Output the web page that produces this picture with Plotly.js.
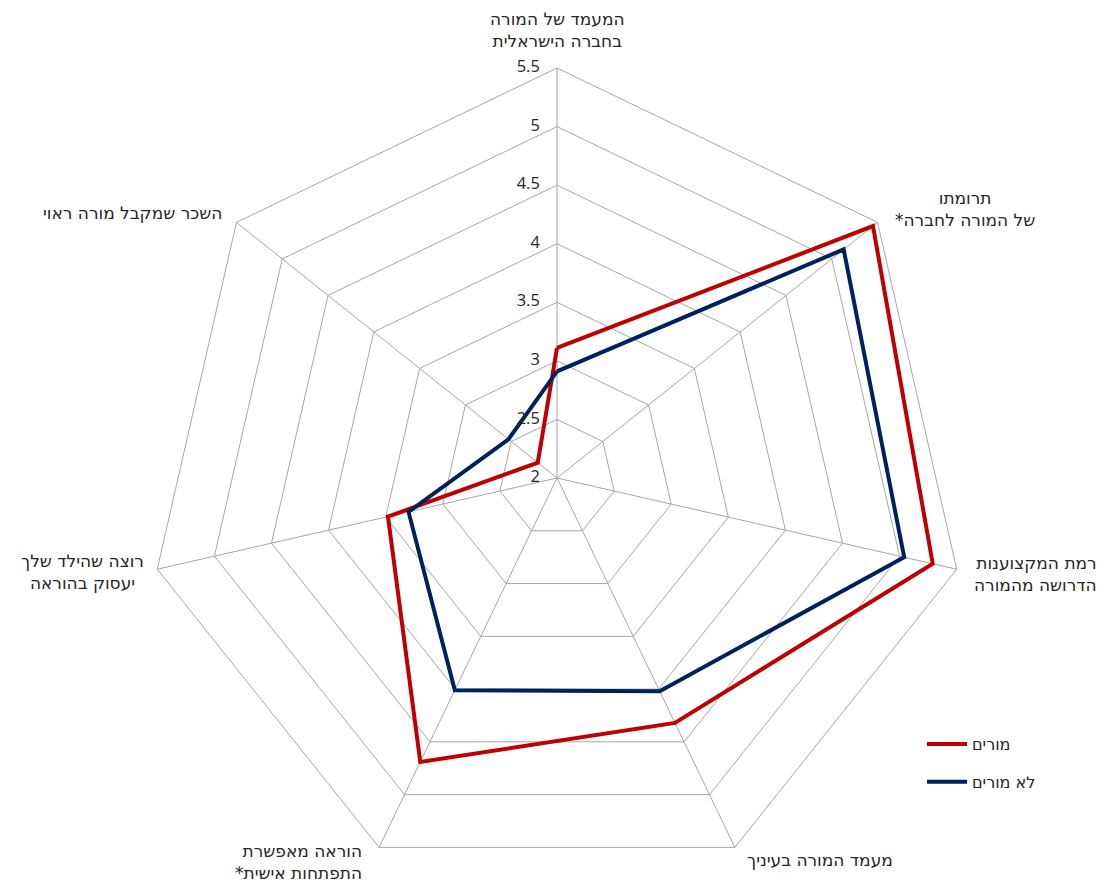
<!DOCTYPE html>
<html>
<head>
<meta charset="utf-8">
<script src="https://cdn.plot.ly/plotly-3.0.1.min.js"></script>
<style>
html,body{margin:0;padding:0;overflow:hidden;background:#fff;}
#chart{width:1110px;height:888px;}
</style>
</head>
<body>
<div id="chart"></div>
<script>
var categories = [
  "המעמד של המורה בחברה הישראלית",
  "תרומתו של המורה לחברה*",
  "רמת המקצוענות הדרושה מהמורה",
  "מעמד המורה בעיניך",
  "הוראה מאפשרת התפתחות אישית*",
  "רוצה שהילד שלך יעסוק בהוראה",
  "השכר שמקבל מורה ראוי"
];
var categoryLabels = [
  "המעמד של המורה<br>בחברה הישראלית",
  "תרומתו<br>*של המורה לחברה",
  "רמת המקצוענות<br>הדרושה מהמורה",
  "מעמד המורה בעיניך",
  "הוראה מאפשרת<br>*התפתחות אישית",
  "רוצה שהילד שלך<br>יעסוק בהוראה",
  "השכר שמקבל מורה ראוי"
];
var seriesNames = ["מורים", "לא מורים"];
var teachers = [3.11, 5.45, 5.29, 4.32, 4.69, 3.48, 2.21];
var nonTeachers = [2.91, 5.13, 5.04, 4.02, 4.01, 3.30, 2.53];
var radialTicks = [2, 2.5, 3, 3.5, 4, 4.5, 5, 5.5];
var radialTickText = ["2", "2.5", "3", "3.5", "4", "4.5", "5", "5.5"];

function closeLoop(a){ return a.concat([a[0]]); }

var labelFont = "'DejaVu Sans', 'Open Sans', sans-serif";
var numFont = "'Open Sans', 'DejaVu Sans', sans-serif";
var textColor = "#262626";

var traces = [
  {type:"scatterpolar", mode:"lines", name:seriesNames[0], legendgroup:"a",
   r:closeLoop(teachers), theta:closeLoop(categories),
   line:{color:"#C00000", width:4}},
  {type:"scatterpolar", mode:"lines", name:seriesNames[1], legendgroup:"b",
   r:closeLoop(nonTeachers), theta:closeLoop(categories),
   line:{color:"#002060", width:4}},
  {type:"scatterpolar", mode:"text", showlegend:false, hoverinfo:"skip",
   r:radialTicks, theta:radialTicks.map(function(){return categories[0];}),
   text:radialTickText.map(function(t){return t + "\u00A0\u00A0\u00A0\u00A0";}),
   textposition:"middle left", cliponaxis:false,
   textfont:{family:numFont, size:16.5, color:textColor}}
];

var plotL = 4, plotW = 1106, plotT = 68, plotH = 820;
function px(x){ return (x - plotL) / plotW; }
function py(y){ return 1 - (y - plotT) / plotH; }
var labelPos = [
  [557, 30, "center"],
  [965, 209, "center"],
  [1099, 574, "right"],
  [820, 860, "center"],
  [364, 862, "right"],
  [82, 572, "center"],
  [224, 213, "right"]
];
var annotations = categoryLabels.map(function(t, i){
  return {text:t, xref:"paper", yref:"paper", x:px(labelPos[i][0]), y:py(labelPos[i][1]),
          xanchor:labelPos[i][2], yanchor:"middle", showarrow:false,
          align:labelPos[i][2] === "right" ? "right" : "center",
          font:{family:labelFont, size:17, color:textColor}};
});

var layout = {
  width:1110, height:888,
  margin:{l:4, r:0, t:68, b:0},
  paper_bgcolor:"#fff",
  font:{family:labelFont, size:16, color:textColor},
  showlegend:true,
  legend:{x:px(922), y:py(727), xanchor:"left", yanchor:"top",
          font:{family:labelFont, size:16, color:textColor}, tracegroupgap:14,
          itemwidth:40, bgcolor:"rgba(0,0,0,0)"},
  annotations:annotations,
  polar:{
    gridshape:"linear",
    bgcolor:"#fff",
    radialaxis:{
      range:[1.9999, 5.5], tickvals:radialTicks,
      angle:90, showticklabels:false,
      showline:false, ticks:"", gridcolor:"#a6a6a6", gridwidth:1
    },
    angularaxis:{
      type:"category", categoryarray:categories,
      rotation:90, direction:"clockwise", showticklabels:false,
      showline:true, linecolor:"#a6a6a6", linewidth:1,
      gridcolor:"#a6a6a6", gridwidth:1, ticks:""
    }
  }
};
Plotly.newPlot("chart", traces, layout, {displayModeBar:false, staticPlot:true});
</script>
</body>
</html>
